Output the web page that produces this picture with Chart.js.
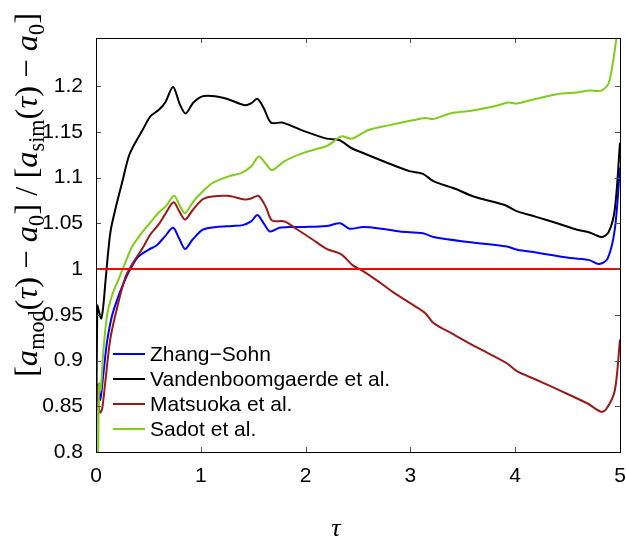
<!DOCTYPE html>
<html>
<head>
<meta charset="utf-8">
<script src="https://cdn.jsdelivr.net/npm/chart.js@4"></script>
<style>
  html, body { margin: 0; padding: 0; background: #fff; }
  #wrap { width: 626px; height: 544px; position: relative; }
</style>
</head>
<body>
<div id="wrap"><canvas id="ratioChart"></canvas></div>
<script>
// growth-rate ratio against simulation, per model
const zhangTau = [0.02, 0.04, 0.07, 0.105, 0.153, 0.216, 0.28, 0.328, 0.40, 0.50, 0.58, 0.66, 0.735, 0.795, 0.85, 0.92, 1.02, 1.15, 1.30, 1.40, 1.48, 1.54, 1.60, 1.66, 1.75, 1.85, 2.0, 2.2, 2.33, 2.42, 2.55, 2.73, 2.9, 3.12, 3.22, 3.55, 3.92, 4.02, 4.2, 4.36, 4.53, 4.7, 4.8, 4.88, 4.95, 5.0];
const zhangVals = [0.875, 0.857, 0.885, 0.920, 0.949, 0.971, 0.989, 1.0, 1.013, 1.021, 1.026, 1.036, 1.045, 1.033, 1.022, 1.032, 1.043, 1.046, 1.047, 1.048, 1.052, 1.059, 1.050, 1.041, 1.045, 1.046, 1.046, 1.047, 1.050, 1.044, 1.046, 1.044, 1.041, 1.039, 1.035, 1.0295, 1.0245, 1.021, 1.018, 1.015, 1.012, 1.010, 1.0055, 1.011, 1.043, 1.111];

const vandenTau = [0, 0.012, 0.025, 0.05, 0.07, 0.09, 0.137, 0.184, 0.248, 0.312, 0.36, 0.44, 0.52, 0.60, 0.66, 0.735, 0.80, 0.855, 0.93, 1.03, 1.22, 1.42, 1.48, 1.54, 1.60, 1.67, 1.78, 1.98, 2.2, 2.32, 2.44, 2.565, 2.76, 2.99, 3.12, 3.22, 3.42, 3.61, 3.9, 4.02, 4.2, 4.4, 4.59, 4.71, 4.82, 4.89, 4.95, 5.0];
const vandenVals = [0.78, 0.96, 0.955, 0.946, 0.96, 0.986, 1.040, 1.065, 1.094, 1.123, 1.135, 1.151, 1.167, 1.174, 1.182, 1.199, 1.180, 1.170, 1.182, 1.189, 1.187, 1.179, 1.181, 1.186, 1.176, 1.160, 1.160, 1.151, 1.1425, 1.141, 1.132, 1.126, 1.117, 1.107, 1.104, 1.096, 1.088, 1.079, 1.070, 1.063, 1.057, 1.050, 1.043, 1.040, 1.035, 1.040, 1.065, 1.138];

const matsuokaTau = [0.01, 0.025, 0.04, 0.06, 0.089, 0.137, 0.2, 0.28, 0.343, 0.44, 0.52, 0.60, 0.66, 0.74, 0.795, 0.85, 0.92, 1.03, 1.25, 1.42, 1.48, 1.55, 1.62, 1.68, 1.80, 1.91, 2.07, 2.2, 2.34, 2.45, 2.53, 2.70, 2.83, 3.02, 3.14, 3.22, 3.42, 3.64, 3.92, 4.02, 4.2, 4.43, 4.69, 4.82, 4.87, 4.95, 5.0];
const matsuokaVals = [0.87, 0.85, 0.843, 0.848, 0.877, 0.924, 0.957, 0.991, 1.005, 1.022, 1.038, 1.049, 1.060, 1.073, 1.063, 1.054, 1.064, 1.077, 1.080, 1.076, 1.077, 1.080, 1.068, 1.053, 1.052, 1.044, 1.032, 1.022, 1.016, 1.004, 0.999, 0.986, 0.975, 0.961, 0.952, 0.941, 0.928, 0.914, 0.897, 0.888, 0.879, 0.867, 0.853, 0.844, 0.847, 0.867, 0.923];

const sadotTau = [0, 0.02, 0.03, 0.045, 0.07, 0.105, 0.153, 0.216, 0.28, 0.343, 0.44, 0.52, 0.60, 0.67, 0.745, 0.80, 0.85, 0.93, 1.03, 1.11, 1.26, 1.39, 1.48, 1.555, 1.62, 1.68, 1.80, 1.98, 2.21, 2.34, 2.44, 2.60, 2.79, 3.02, 3.14, 3.22, 3.38, 3.58, 3.84, 3.93, 4.02, 4.2, 4.4, 4.59, 4.71, 4.82, 4.89, 4.935, 4.97];
const sadotVals = [0.75, 0.80, 0.875, 0.868, 0.91, 0.949, 0.971, 0.989, 1.007, 1.024, 1.040, 1.051, 1.062, 1.069, 1.080, 1.069, 1.061, 1.074, 1.086, 1.094, 1.101, 1.105, 1.112, 1.123, 1.115, 1.108, 1.118, 1.127, 1.135, 1.145, 1.1425, 1.152, 1.157, 1.1625, 1.165, 1.164, 1.170, 1.173, 1.179, 1.182, 1.181, 1.186, 1.191, 1.193, 1.195, 1.195, 1.2025, 1.2275, 1.256];

// unit ratio reference
const refTau = [0, 5];
const refVals = [1, 1];

const xTicks = [0, 1, 2, 3, 4, 5];
const yTicks = [0.8, 0.85, 0.9, 0.95, 1, 1.05, 1.1, 1.15, 1.2];

const seriesLabels = ['Zhang\u2212Sohn', 'Vandenboomgaerde et al.', 'Matsuoka et al.', 'Sadot et al.'];
const seriesColors = ['#0000ff', '#000000', '#991a1a', '#80cc1a'];

const toPoints = (xs, ys) => xs.map((x, i) => ({ x: x, y: ys[i] }));

function lineSet(label, xs, ys, color, order) {
    return {
        label: label,
        data: toPoints(xs, ys),
        borderColor: color,
        backgroundColor: color,
        borderWidth: 2,
        pointRadius: 0,
        tension: 0.3,
        fill: false,
        order: order
    };
}

// frame, inward ticks, titles and in-plot legend
const decorations = {
    id: 'decorations',
    afterDraw(chart) {
        const ctx = chart.ctx;
        const area = chart.chartArea;
        const xs = chart.scales.x;
        const ys = chart.scales.y;
        const tick = 5;

        ctx.save();
        ctx.strokeStyle = '#555';
        ctx.lineWidth = 1;
        ctx.beginPath();
        xTicks.forEach(v => {
            const px = Math.round(xs.getPixelForValue(v)) + 0.5;
            ctx.moveTo(px, area.bottom); ctx.lineTo(px, area.bottom - tick);
            ctx.moveTo(px, area.top); ctx.lineTo(px, area.top + tick);
        });
        yTicks.forEach(v => {
            const py = Math.round(ys.getPixelForValue(v)) + 0.5;
            ctx.moveTo(area.left, py); ctx.lineTo(area.left + tick, py);
            ctx.moveTo(area.right, py); ctx.lineTo(area.right - tick, py);
        });
        ctx.stroke();

        ctx.strokeStyle = '#000';
        ctx.strokeRect(Math.round(area.left) + 0.5, Math.round(area.top) + 0.5,
            Math.round(area.right - area.left), Math.round(area.bottom - area.top));

        // legend, lower left inside the axes
        ctx.font = '21px "Liberation Sans", Arial, sans-serif';
        ctx.textBaseline = 'middle';
        ctx.fillStyle = '#000';
        seriesLabels.forEach((lab, i) => {
            const y = 354 + i * 25;
            ctx.strokeStyle = seriesColors[i];
            ctx.lineWidth = 2;
            ctx.beginPath();
            ctx.moveTo(113, y); ctx.lineTo(145, y);
            ctx.stroke();
            ctx.fillText(lab, 150, y + 1);
        });

        // x title
        ctx.font = 'italic 26px "Liberation Serif", "DejaVu Serif", serif';
        ctx.textAlign = 'center';
        ctx.textBaseline = 'alphabetic';
        ctx.fillText('\u03c4', 336, 536);

        // y title with subscripts, read bottom to top
        const base = 25, sub = 17;
        const rm = s => `${s}px "Liberation Serif", "DejaVu Serif", serif`;
        const it = s => `italic ${s}px "Liberation Serif", "DejaVu Serif", serif`;
        const pieces = [
            ['[', rm(base), 0], ['a', it(base), 0], ['mod', rm(sub), 5], ['(', rm(base), 0],
            ['\u03c4', it(base), 0], [')', rm(base), 0], [' \u2212 ', rm(base), 0],
            ['a', it(base), 0], ['0', rm(sub), 5], [']', rm(base), 0], [' / ', rm(base), 0],
            ['[', rm(base), 0], ['a', it(base), 0], ['sim', rm(sub), 5], ['(', rm(base), 0],
            ['\u03c4', it(base), 0], [')', rm(base), 0], [' \u2212 ', rm(base), 0],
            ['a', it(base), 0], ['0', rm(sub), 5], [']', rm(base), 0]
        ];
        let total = 0;
        pieces.forEach(p => { ctx.font = p[1]; total += ctx.measureText(p[0]).width; });
        const span = 364;
        const k = span / total;
        ctx.translate(37, 377);
        ctx.rotate(-Math.PI / 2);
        ctx.scale(k, k);
        ctx.textAlign = 'left';
        let cx = 0;
        pieces.forEach(p => {
            ctx.font = p[1];
            ctx.fillText(p[0], cx, p[2]);
            cx += ctx.measureText(p[0]).width;
        });
        ctx.restore();
    }
};

const tickFont = { family: '"Liberation Sans", Arial, sans-serif', size: 21 };

new Chart(document.getElementById('ratioChart'), {
    type: 'line',
    data: {
        datasets: [
            lineSet(seriesLabels[0], zhangTau, zhangVals, seriesColors[0], 4),
            lineSet(seriesLabels[1], vandenTau, vandenVals, seriesColors[1], 3),
            lineSet(seriesLabels[2], matsuokaTau, matsuokaVals, seriesColors[2], 2),
            lineSet(seriesLabels[3], sadotTau, sadotVals, seriesColors[3], 1),
            Object.assign(lineSet('unity', refTau, refVals, '#ff0000', 0), { tension: 0 })
        ]
    },
    options: {
        responsive: true,
        maintainAspectRatio: false,
        animation: false,
        layout: { padding: { left: 0, right: 6, top: 38, bottom: 0 } },
        plugins: {
            legend: { display: false },
            tooltip: { enabled: false }
        },
        scales: {
            x: {
                type: 'linear',
                min: 0,
                max: 5,
                grid: { display: false },
                border: { display: false },
                afterBuildTicks: s => { s.ticks = xTicks.map(v => ({ value: v })); },
                afterFit: s => { s.height = 92; s.paddingLeft = 0; s.paddingRight = 0; },
                ticks: {
                    color: '#000',
                    font: tickFont,
                    padding: 4,
                    maxRotation: 0,
                    autoSkip: false,
                    callback: v => String(v)
                }
            },
            y: {
                type: 'linear',
                min: 0.8,
                max: 1.2525,
                grid: { display: false },
                border: { display: false },
                afterBuildTicks: s => { s.ticks = yTicks.map(v => ({ value: v })); },
                afterFit: s => { s.width = 96; s.paddingTop = 0; s.paddingBottom = 0; },
                ticks: {
                    color: '#000',
                    font: tickFont,
                    padding: 5,
                    autoSkip: false,
                    callback: v => String(+Number(v).toFixed(2))
                }
            }
        }
    },
    plugins: [decorations]
});
</script>
</body>
</html>
